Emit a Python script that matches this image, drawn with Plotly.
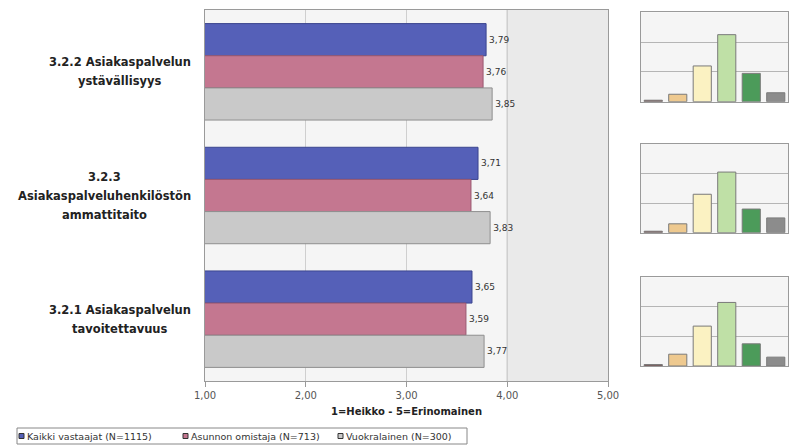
import plotly.graph_objects as go

# Survey items (top to bottom) and their label lines
categories = [
    "3.2.2 Asiakaspalvelun ystävällisyys",
    "3.2.3 Asiakaspalveluhenkilöstön ammattitaito",
    "3.2.1 Asiakaspalvelun tavoitettavuus",
]
category_lines = [
    ["3.2.2 Asiakaspalvelun", "ystävällisyys"],
    ["3.2.3", "Asiakaspalveluhenkilöstön", "ammattitaito"],
    ["3.2.1 Asiakaspalvelun", "tavoitettavuus"],
]

# Mean scores per respondent group
series_names = ["Kaikki vastaajat (N=1115)", "Asunnon omistaja (N=713)", "Vuokralainen (N=300)"]
kaikki = [3.79, 3.71, 3.65]
omistaja = [3.76, 3.64, 3.59]
vuokralainen = [3.85, 3.83, 3.77]

x_ticks = [1, 2, 3, 4, 5]
x_tick_labels = ["1,00", "2,00", "3,00", "4,00", "5,00"]
x_title = "1=Heikko - 5=Erinomainen"

# Answer distributions (%) for the small charts, one per item
dist_classes = ["1", "2", "3", "4", "5", "eos"]
dist_ystavallisyys = [1, 5, 24, 45, 19, 6]
dist_ammattitaito = [1, 6, 26, 41, 16, 10]
dist_tavoitettavuus = [1, 8, 27, 43, 15, 6]

FONT = "DejaVu Sans, Verdana, sans-serif"
W, H = 793, 448

fig = go.Figure()

bar_fill = ["#5560b8", "#c47790", "#c9c9c9"]
bar_edge = ["#3b458f", "#9a5870", "#8f8f8f"]
for name, vals, fc, ec in zip(series_names, [kaikki, omistaja, vuokralainen], bar_fill, bar_edge):
    fig.add_trace(go.Bar(
        y=categories, x=vals, name=name, orientation="h", showlegend=False,
        marker=dict(color=fc, line=dict(color=ec, width=1)),
        text=[f"{v:.2f}".replace(".", ",") for v in vals],
        textposition="outside", cliponaxis=False,
        textfont=dict(size=9, color="#333333", family=FONT),
        xaxis="x", yaxis="y",
    ))

# Small distribution charts on the right
mini_colors = ["#7a4a4a", "#eec98f", "#fbf2c2", "#bfe0a6", "#4c9b5a", "#8c8c8c"]
mini_domains = [[0.773, 0.9725], [0.4806, 0.6786], [0.183, 0.381]]
for i, dist in enumerate([dist_ystavallisyys, dist_ammattitaito, dist_tavoitettavuus]):
    n = i + 2
    fig.add_trace(go.Bar(
        x=dist_classes, y=dist, width=0.74, showlegend=False,
        marker=dict(color=mini_colors, line=dict(color="#7a7a7a", width=1)),
        xaxis=f"x{n}", yaxis=f"y{n}", hoverinfo="skip",
    ))

shapes = [
    dict(type="rect", xref="x", yref="y domain", x0=4, x1=5, y0=0, y1=1,
         fillcolor="#eaeaea", line=dict(width=0), layer="below"),
    dict(type="line", xref="x", yref="y domain", x0=4, x1=4, y0=0, y1=1,
         line=dict(color="#a0a0a0", width=1), layer="below"),
    # legend frame
    dict(type="rect", xref="paper", yref="paper",
         x0=17 / W, x1=467 / W, y0=1 - 444 / H, y1=1 - 428 / H,
         fillcolor="white", line=dict(color="#888888", width=1)),
]

layout = dict(
    width=W, height=H,
    margin=dict(l=0, r=0, t=0, b=0, autoexpand=False),
    paper_bgcolor="white",
    plot_bgcolor="#f5f5f5",
    font=dict(family=FONT, size=9, color="#333333"),
    showlegend=False,
    barmode="group", bargap=0.22, bargroupgap=0,
    xaxis=dict(
        domain=[205 / W, 608 / W], range=[1, 5],
        tickvals=x_ticks, ticktext=x_tick_labels,
        tickfont=dict(size=10, color="#555555"),
        showgrid=True, gridcolor="#cfcfcf", gridwidth=1,
        showline=True, mirror=True, linecolor="#9a9a9a",
        ticks="outside", ticklen=5, tickcolor="#9a9a9a",
        zeroline=False, anchor="y", automargin=False,
        title=dict(text=f"<b>{x_title}</b>", font=dict(size=10, color="#222222"), standoff=7),
    ),
    yaxis=dict(
        domain=[1 - 381 / H, 1 - 10 / H],
        categoryorder="array", categoryarray=categories,
        autorange="reversed", showticklabels=False,
        showline=True, mirror=True, linecolor="#9a9a9a",
        showgrid=False, anchor="x", automargin=False,
    ),
    shapes=shapes,
)

for i, dom in enumerate(mini_domains):
    n = i + 2
    layout[f"xaxis{n}"] = dict(
        domain=[641 / W, 788 / W], anchor=f"y{n}",
        showticklabels=False, showgrid=False, ticks="",
        showline=True, mirror=True, linecolor="#9a9a9a",
    )
    layout[f"yaxis{n}"] = dict(
        domain=dom, anchor=f"x{n}", range=[0, 60], dtick=20,
        showticklabels=False, showgrid=True, gridcolor="#b5b5b5",
        showline=True, mirror=True, linecolor="#9a9a9a", zeroline=False,
    )

fig.update_layout(**layout)

# Centered item labels to the left of the main chart
line_step = 19
label_center_px = [120, 104, 120]
annotations = []
for cat, lines, cx in zip(categories, category_lines, label_center_px):
    n = len(lines)
    for j, txt in enumerate(lines):
        annotations.append(dict(
            x=cx / W, xref="paper", y=cat, yref="y",
            text=f"<b>{txt}</b>", showarrow=False,
            xanchor="center", yanchor="middle",
            yshift=((n - 1) / 2 - j) * line_step,
            font=dict(size=11.5, color="#222222", family=FONT),
        ))

# Legend entries: small colour square followed by the series name
legend_x = [19, 183, 338]
legend_y = 1 - 436 / H
for name, fc, ec, lx in zip(series_names, bar_fill, bar_edge, legend_x):
    fig.add_shape(type="rect", xref="paper", yref="paper",
                  x0=lx / W, x1=(lx + 5) / W, y0=legend_y - 2.5 / H, y1=legend_y + 2.5 / H,
                  fillcolor=fc, line=dict(color="#333333", width=1))
    annotations.append(dict(
        x=(lx + 6) / W, xref="paper", y=legend_y, yref="paper",
        text=name, showarrow=False, xanchor="left", yanchor="middle",
        font=dict(size=9.5, color="#333333", family=FONT),
    ))

fig.update_layout(annotations=annotations)

fig.write_html("out.html")
